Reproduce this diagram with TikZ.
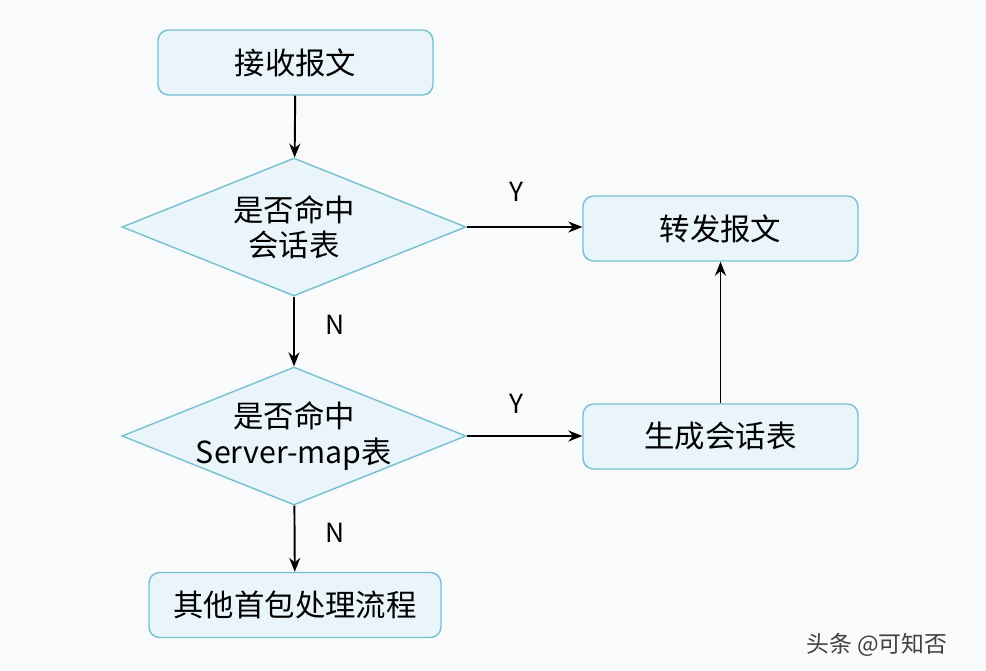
\documentclass[tikz,border=0pt]{standalone}
\usepackage{fontspec}
\setmainfont{Noto Sans CJK SC}
\usepackage{xcolor}
\usetikzlibrary{positioning,arrows.meta,shapes.geometric}

\definecolor{boxline}{RGB}{118,192,206}
\definecolor{boxfill}{RGB}{234,245,251}
\definecolor{bgcol}{RGB}{249,250,252}

\begin{document}
\begin{tikzpicture}[
      x=0.02cm, y=-0.02cm,
      every node/.style={font=\fontsize{17.3}{20}\selectfont},
      stepbox/.style={draw=boxline, fill=boxfill, line width=0.8pt, rounded corners=6pt,
        minimum width=5.5cm, minimum height=1.3cm, align=center},
      decide/.style={diamond, draw=boxline, fill=boxfill, line width=0.8pt,
        minimum width=6.88cm, minimum height=2.76cm, inner sep=0pt},
      lbl/.style={font=\fontsize{15}{18}\selectfont},
      arrow/.style={-{Stealth[length=2.8mm,width=2.2mm]}, line width=1.1pt}
    ]
    \fill[bgcol] (0,0) rectangle (986,670);
    \path[use as bounding box] (0,0) rectangle (986,670);

    \node[stepbox] (recv) at (295.5,62.5) {接收报文};
    \node[decide, label={[align=center]center:是否命中\\会话表}] (hit) at (294,227) {};
    \node[stepbox] (fwd) at (720.5,228.5) {转发报文};
    \node[decide, label={[align=center]center:是否命中\\Server-map表}] (smap) at (294,436) {};
    \node[stepbox] (gen) at (720.5,436.5) {生成会话表};
    \node[stepbox, minimum width=5.84cm] (other) at (295,605) {其他首包处理流程};

    \node[lbl] (y1) at (516,192) {Y};
    \node[lbl] (y2) at (516,404) {Y};
    \node[lbl] (n1) at (335,325) {N};
    \node[lbl] (n2) at (335,533) {N};

    \draw[arrow] (recv) -- (hit);
    \draw[arrow] (hit.east) -- (hit.east -| fwd.west);
    \draw[arrow] (hit) -- (smap);
    \draw[arrow] (smap.east) -- (smap.east -| gen.west);
    \draw[arrow] (smap) -- (other);
    \draw[arrow] (gen) -- (fwd);

    \node[font=\fontsize{13}{16}\selectfont, text=black!75] (mark) at (877,645) {头条 @可知否};
  \end{tikzpicture}
\end{document}
